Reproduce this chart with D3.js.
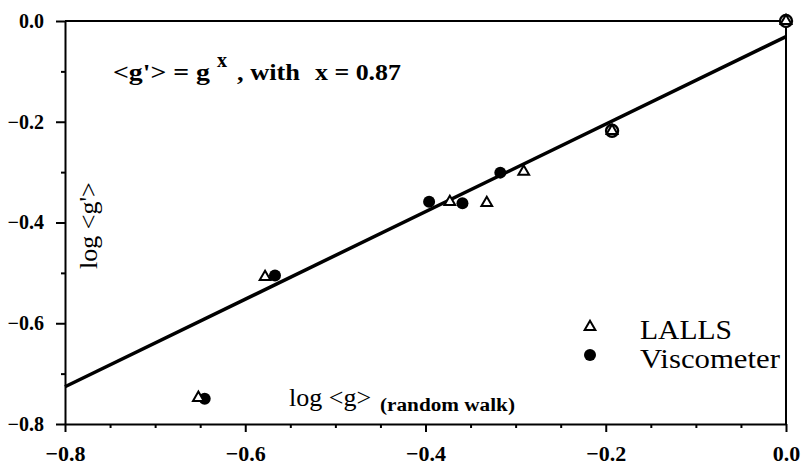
<!DOCTYPE html>
<html>
<head>
<meta charset="utf-8">
<script src="https://cdn.jsdelivr.net/npm/d3@7"></script>
<style>
  body { margin: 0; background: #fff; }
  text { font-family: "Liberation Serif", "Times New Roman", serif; fill: #000; }
</style>
</head>
<body>
<div id="chart"></div>
<script>
var W = 802, H = 467;
var margin = {top: 21, right: 16, bottom: 43, left: 65};
var width = W - margin.left - margin.right;
var height = H - margin.top - margin.bottom;

// data
var lallsX = [-0.652, -0.578, -0.373, -0.332, -0.291];
var lallsY = [-0.748, -0.508, -0.359, -0.361, -0.299];
var viscX = [-0.645, -0.567, -0.396, -0.359, -0.317];
var viscY = [-0.750, -0.505, -0.359, -0.362, -0.301];
// points where both methods coincide (triangle inside ring)
var bothX = [-0.193, 0.0];
var bothY = [-0.218, 0.0];
// fitted line end points
var fitX = [-0.8, 0.0];
var fitY = [-0.726, -0.031];

var majorTicks = [-0.8, -0.6, -0.4, -0.2, 0.0];
var xMinor = [-0.75, -0.7, -0.65, -0.55, -0.5, -0.45, -0.35, -0.3, -0.25, -0.15, -0.1, -0.05];
var yMinor = [-0.7, -0.5, -0.3, -0.1];

var svg = d3.select('#chart').append('svg')
    .attr('width', W)
    .attr('height', H);

var g = svg.append('g')
    .attr('transform', 'translate(' + margin.left + ',' + margin.top + ')');

var x = d3.scaleLinear().domain([-0.8, 0]).range([0, width]);
var y = d3.scaleLinear().domain([-0.8, 0]).range([height, 0]);

// minor ticks
g.append('g')
    .attr('transform', 'translate(0,' + height + ')')
    .call(d3.axisBottom(x).tickValues(xMinor).tickSize(4).tickFormat(''))
    .call(function(s) { s.select('.domain').remove(); });
g.append('g')
    .call(d3.axisLeft(y).tickValues(yMinor).tickSize(4).tickFormat(''))
    .call(function(s) { s.select('.domain').remove(); });

// major axes
var xAxis = g.append('g')
    .attr('transform', 'translate(0,' + height + ')')
    .call(d3.axisBottom(x).tickValues(majorTicks).tickSize(8).tickSizeOuter(0).tickPadding(13)
      .tickFormat(d3.format('.1f')));
xAxis.selectAll('text')
    .style('font-size', '22px')
    .style('font-weight', 'bold');

var yAxis = g.append('g')
    .call(d3.axisLeft(y).tickValues(majorTicks).tickSize(9).tickSizeOuter(0).tickPadding(12)
      .tickFormat(d3.format('.1f')));
yAxis.selectAll('text')
    .style('font-size', '20px')
    .style('font-weight', 'bold');

svg.selectAll('.domain, .tick line')
    .attr('stroke', '#000')
    .attr('stroke-width', 2);

// top and right frame
g.append('line')
    .attr('x1', 0).attr('x2', width).attr('y1', 0).attr('y2', 0)
    .attr('stroke', '#000').attr('stroke-width', 2);
g.append('line')
    .attr('x1', width).attr('x2', width).attr('y1', 0).attr('y2', height)
    .attr('stroke', '#000').attr('stroke-width', 2);

// fit line
g.append('line')
    .attr('x1', x(fitX[0])).attr('y1', y(fitY[0]))
    .attr('x2', x(fitX[1])).attr('y2', y(fitY[1]))
    .attr('stroke', '#000')
    .attr('stroke-width', 3.5);

var tri = d3.symbol().type(d3.symbolTriangle).size(50);

function drawTri(sel, xs, ys) {
  sel.selectAll(null)
      .data(xs)
      .enter().append('path')
        .attr('d', tri)
        .attr('transform', function(d, i) { return 'translate(' + x(d) + ',' + y(ys[i]) + ')'; })
        .attr('fill', '#fff')
        .attr('stroke', '#000')
        .attr('stroke-width', 2);
}

// viscometer filled circles
g.selectAll('.visc')
    .data(viscX)
    .enter().append('circle')
      .attr('class', 'visc')
      .attr('cx', function(d) { return x(d); })
      .attr('cy', function(d, i) { return y(viscY[i]); })
      .attr('r', 6)
      .attr('fill', '#000');

drawTri(g, lallsX, lallsY);

// coincident points
g.selectAll('.both')
    .data(bothX)
    .enter().append('circle')
      .attr('class', 'both')
      .attr('cx', function(d) { return x(d); })
      .attr('cy', function(d, i) { return y(bothY[i]); })
      .attr('r', 6)
      .attr('fill', '#fff')
      .attr('stroke', '#000')
      .attr('stroke-width', 2.4);
drawTri(g, bothX, bothY);

// stretched text helper
function stretch(sel, len) {
  return sel.attr('textLength', len).attr('lengthAdjust', 'spacingAndGlyphs');
}

// equation
var eq = svg.append('g')
    .style('font-size', '23px')
    .style('font-weight', 'bold');
stretch(eq.append('text').attr('x', 113).attr('y', 80).text("<g'> = g"), 97);
eq.append('text').attr('x', 217).attr('y', 67).style('font-size', '20px').text('x');
stretch(eq.append('text').attr('x', 237).attr('y', 80).text(', with'), 63);
stretch(eq.append('text').attr('x', 315).attr('y', 80).text('x = 0.87'), 86);

// axis titles
svg.append('text')
    .attr('x', 289)
    .attr('y', 406)
    .style('font-size', '26px')
    .text('log <g>');
stretch(svg.append('text')
    .attr('x', 380)
    .attr('y', 411)
    .style('font-size', '18px')
    .style('font-weight', 'bold')
    .text('(random walk)'), 135);

svg.append('text')
    .attr('transform', 'translate(97,269) rotate(-90)')
    .style('font-size', '26px')
    .text("log <g'>");

// legend
var leg = svg.append('g');
leg.append('path')
    .attr('d', tri)
    .attr('transform', 'translate(590,327)')
    .attr('fill', '#fff')
    .attr('stroke', '#000')
    .attr('stroke-width', 2);
leg.append('circle')
    .attr('cx', 590).attr('cy', 355).attr('r', 6)
    .attr('fill', '#000');
stretch(leg.append('text')
    .attr('x', 640).attr('y', 339)
    .style('font-size', '27px')
    .text('LALLS'), 92);
stretch(leg.append('text')
    .attr('x', 640).attr('y', 368)
    .style('font-size', '27px')
    .text('Viscometer'), 140);
</script>
</body>
</html>
